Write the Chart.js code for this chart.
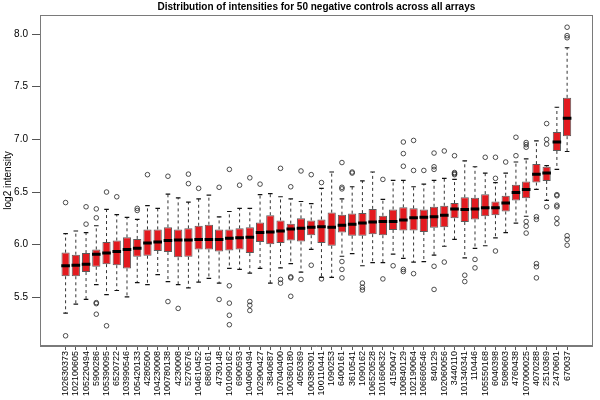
<!DOCTYPE html>
<html><head><meta charset="utf-8">
<script src="https://cdn.jsdelivr.net/npm/chart.js@4.4.0/dist/chart.umd.min.js"></script>
<style>html,body{margin:0;padding:0;background:#fff;}</style>
</head><body>
<canvas id="c" width="600" height="400"></canvas>
<script>
const chartTitle = 'Distribution of intensities for 50 negative controls across all arrays';
const yTitle = 'log2 intensity';
const categories = ['102630373','102100605','105220494','5900286','105390095','6520722','103990546','105420133','4280500','104230008',
 '100780138','4230008','5270576','104610452','6860161','4730148','101090162','6900593','104060494','102900427',
 '3840687','107040400','100360180','4050369','100380301','100110441','1090253','6400161','3610541','1090162',
 '106520528','101660632','4150047','100840129','102190064','106660546','840129','102060056','3440110','101340341',
 '110446','105550168','6040398','5080603','4760438','107000025','4070288','2510369','2470601','670037'];
const whiskerLow = [5.35,5.435,5.48,5.62,5.525,5.565,5.505,5.64,5.62,5.715,
 5.65,5.62,5.59,5.645,5.68,5.635,5.775,5.765,5.73,5.775,
 5.635,5.78,5.82,5.74,5.955,5.69,5.69,5.89,5.915,5.80,
 5.83,5.83,5.91,5.87,5.835,5.84,5.90,5.985,6.05,5.875,
 5.965,5.99,6.065,6.115,6.205,6.27,6.525,6.42,6.715,6.885];
const q1 = [5.70,5.70,5.74,5.79,5.815,5.805,5.775,5.885,5.895,5.94,
 5.93,5.88,5.885,5.955,5.955,5.935,5.945,5.955,5.92,6.025,
 6.005,6.015,6.04,6.03,6.09,6.015,5.99,6.115,6.085,6.085,
 6.10,6.09,6.14,6.135,6.135,6.12,6.16,6.165,6.25,6.215,
 6.24,6.27,6.28,6.315,6.42,6.44,6.59,6.605,6.89,7.03];
const median = [5.80,5.805,5.815,5.91,5.92,5.935,5.955,5.965,6.015,6.025,
 6.04,6.045,6.045,6.05,6.05,6.05,6.06,6.065,6.07,6.115,
 6.12,6.13,6.15,6.155,6.165,6.17,6.165,6.185,6.195,6.205,
 6.215,6.22,6.22,6.235,6.255,6.26,6.265,6.28,6.34,6.335,
 6.34,6.35,6.35,6.395,6.495,6.525,6.67,6.68,6.975,7.20];
const q3 = [5.925,5.905,5.92,5.955,6.025,6.04,6.07,6.055,6.145,6.145,
 6.165,6.145,6.155,6.18,6.19,6.145,6.145,6.155,6.165,6.21,
 6.28,6.23,6.20,6.25,6.23,6.24,6.305,6.285,6.295,6.30,
 6.34,6.275,6.335,6.355,6.345,6.335,6.36,6.37,6.395,6.45,
 6.445,6.48,6.41,6.465,6.57,6.60,6.765,6.74,7.07,7.395];
const whiskerHigh = [6.105,6.13,6.115,6.18,6.335,6.285,6.26,6.24,6.37,6.345,
 6.48,6.445,6.405,6.435,6.47,6.265,6.315,6.345,6.345,6.475,
 6.485,6.455,6.435,6.41,6.39,6.535,6.69,6.435,6.55,6.605,
 6.69,6.43,6.61,6.61,6.55,6.575,6.61,6.63,6.62,6.795,
 6.74,6.68,6.59,6.68,6.785,6.815,6.985,6.75,7.305,7.87];
const outliers = [
 [6.40,5.135],[],[6.36,6.195],[6.34,6.255,5.45,5.44,5.34],[6.50,5.23],
 [6.455],[],[6.345,6.325],[6.665],[],
 [6.65,5.46],[5.395],[6.67,6.58],[6.535],[],
 [6.545,5.48],[6.715,5.61,5.445,5.33,5.24],[6.565],[6.635,5.46,5.425,5.375],[6.575],
 [],[6.725,5.67,5.635],[6.55,5.695,5.685,5.51],[6.70,5.67],[6.665,5.805],
 [6.59,5.675],[],[6.78,6.545,6.53,5.84,5.765,5.685],[6.69,6.68],[5.635,5.595,5.57],
 [],[6.62,5.675],[5.80],[6.975,6.865,6.745,5.765,5.745],[6.99,6.705,5.725],
 [6.705],[6.87,6.74,6.715,5.795,5.575],[6.89,5.835],[6.845,6.685,6.675,6.665],[5.71,5.65],
 [5.86,5.78],[6.83],[6.83,6.63,5.94],[6.785],[7.02,6.845],
 [6.97,6.95,6.925,6.22,6.175,6.11],[6.265,6.24,5.82,5.79,5.685],[7.15,7.00,6.955,6.36],
 [6.475,6.465,6.375,6.36,6.25,6.20],[8.065,7.985,7.965,6.085,6.05,5.995]
];
const yTicks = [5.5, 6.0, 6.5, 7.0, 7.5, 8.0];

const pos = categories.map((c, i) => i + 1);
const boxData = pos.map((x, i) => ({x, y: [q1[i], q3[i]]}));
const medData = pos.map((x, i) => ({x, y: median[i]}));
const whiskerData = [];
pos.forEach((x, i) => {
  whiskerData.push({x, y: q3[i]}, {x, y: whiskerHigh[i]}, {x, y: null},
                   {x, y: q1[i]}, {x, y: whiskerLow[i]}, {x, y: null});
});
const capData = pos.flatMap((x, i) => [{x, y: whiskerLow[i]}, {x, y: whiskerHigh[i]}]);
const outData = pos.flatMap((x, i) => outliers[i].map(v => ({x, y: v})));

Chart.defaults.font.family = '"Liberation Sans", Arial, Helvetica, sans-serif';
Chart.defaults.color = '#000';

const framePlugin = {
  id: 'frame',
  afterDraw(chart) {
    const a = chart.chartArea, ctx = chart.ctx;
    ctx.save();
    ctx.strokeStyle = '#7a7a7a';
    ctx.lineWidth = 1;
    ctx.strokeRect(Math.round(a.left) + 0.5, Math.round(a.top) + 0.5,
                   Math.round(a.right - a.left) - 1, Math.round(a.bottom - a.top) - 1);
    ctx.restore();
  }
};

new Chart(document.getElementById('c'), {
  type: 'bar',
  data: {
    datasets: [
      {type: 'line', data: medData, showLine: false, pointStyle: 'line', pointRadius: 4.3,
       pointBorderWidth: 3, borderColor: '#000', backgroundColor: '#000', order: 0},
      {type: 'line', data: outData, showLine: false, pointStyle: 'circle', pointRadius: 2.3,
       pointBorderWidth: 0.8, borderColor: '#222', backgroundColor: 'rgba(0,0,0,0)', order: 1},
      {type: 'line', data: capData, showLine: false, pointStyle: 'line', pointRadius: 2.3,
       pointBorderWidth: 1.2, borderColor: '#111', backgroundColor: '#111', order: 2},
      {type: 'line', data: whiskerData, showLine: true, spanGaps: false, pointRadius: 0,
       borderColor: '#333', borderWidth: 1, borderDash: [3, 3], order: 3},
      {type: 'bar', data: boxData, backgroundColor: '#e31a1f', borderColor: '#5c5c5c',
       borderWidth: 1, borderSkipped: false, categoryPercentage: 1, barPercentage: 0.8, order: 4}
    ]
  },
  options: {
    responsive: false,
    animation: false,
    devicePixelRatio: 1,
    events: [],
    layout: {padding: {top: 0, right: 2, bottom: 0, left: 0}},
    plugins: {
      legend: {display: false},
      tooltip: {enabled: false},
      title: {display: true, text: chartTitle, fullSize: false, color: '#000',
              font: {size: 10, weight: 'bold'}, padding: {top: 1, bottom: 2}}
    },
    scales: {
      x: {
        type: 'linear', min: -1.5, max: 52.5, offset: false,
        afterBuildTicks: s => { s.ticks = pos.map(v => ({value: v})); },
        afterFit: s => { s.height = 54; },
        ticks: {autoSkip: false, maxRotation: 90, minRotation: 90, padding: 1, color: '#000',
                font: {size: 9}, callback: v => categories[v - 1] || ''},
        grid: {display: true, drawOnChartArea: false, drawTicks: true, tickLength: 4,
               color: '#555', offset: false},
        border: {display: true, color: '#7a7a7a'}
      },
      y: {
        type: 'linear', min: 5.038, max: 8.181,
        afterBuildTicks: s => { s.ticks = yTicks.map(v => ({value: v})); },
        afterFit: s => { s.width = 40; },
        ticks: {padding: 4, color: '#000', font: {size: 10}, callback: v => v.toFixed(1)},
        grid: {display: true, drawOnChartArea: false, drawTicks: true, tickLength: 8, color: '#555'},
        border: {display: true, color: '#7a7a7a'},
        title: {display: true, text: yTitle, color: '#000', font: {size: 10},
                padding: {top: 2, bottom: 0}}
      }
    }
  },
  plugins: [framePlugin]
});
</script>
</body></html>
